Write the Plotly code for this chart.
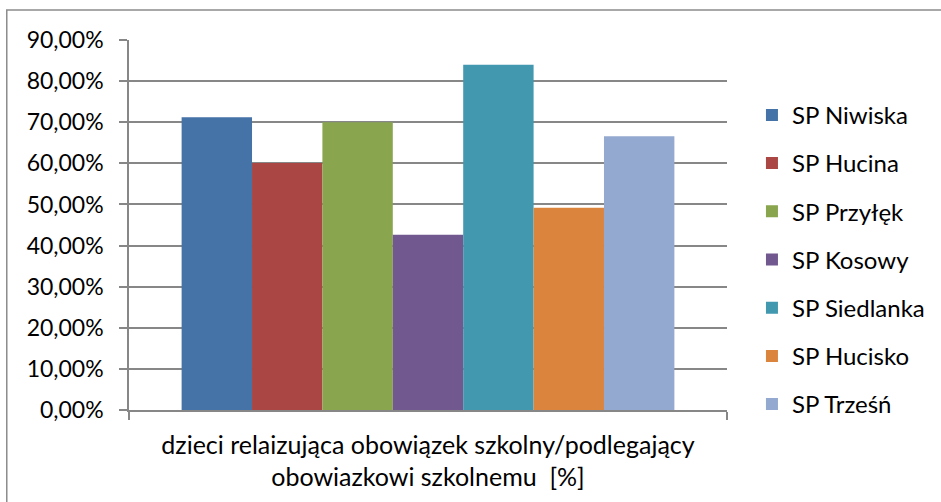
import plotly.graph_objects as go

category = "dzieci relaizująca obowiązek szkolny/podlegający<br>obowiazkowi szkolnemu  [%]"
schools = ["SP Niwiska", "SP Hucina", "SP Przyłęk", "SP Kosowy", "SP Siedlanka", "SP Hucisko", "SP Trześń"]
values = [0.712, 0.601, 0.700, 0.426, 0.840, 0.492, 0.666]
colors = ["#4572A7", "#AA4643", "#89A54E", "#71588F", "#4198AF", "#DB843D", "#93A9CF"]

FONT = "Lato"
FS = 23
GRID = "#878787"

fig = go.Figure()
for i, (name, v, c) in enumerate(zip(schools, values, colors)):
    fig.add_trace(go.Bar(
        x=[category], y=[v], name=name, marker=dict(color=c, line=dict(width=0)),
        legendgroup=f"g{i}",
    ))

fig.update_layout(
    width=941, height=502,
    margin=dict(l=129, r=213, t=40, b=92),
    paper_bgcolor="white", plot_bgcolor="white",
    font=dict(family=FONT, size=FS, color="#000000"),
    separators=",.",
    barmode="group", bargap=0.176, bargroupgap=0,
    showlegend=True,
    legend=dict(
        x=1.04, y=0.406, xanchor="left", yanchor="middle",
        traceorder="grouped", tracegroupgap=14,
        font=dict(family=FONT, size=24, color="#000000"),
        bgcolor="rgba(0,0,0,0)", itemwidth=30,
    ),
    xaxis=dict(
        showline=True, linecolor=GRID, linewidth=1.5,
        ticks="outside", ticklen=8, tickcolor=GRID, tickwidth=1.5,
        tickson="boundaries", showgrid=False,
        tickfont=dict(family=FONT, size=25, color="#000000"),
        ticklabelstandoff=12,
    ),
    yaxis=dict(
        range=[0, 0.9], dtick=0.1, tickformat=".2%",
        showline=True, linecolor=GRID, linewidth=1.5,
        ticks="outside", ticklen=8, tickcolor=GRID, tickwidth=1.5,
        showgrid=True, gridcolor=GRID, gridwidth=1.5, zeroline=False,
        tickfont=dict(family=FONT, size=FS, color="#000000"),
        ticklabelstandoff=11,
    ),
    shapes=[dict(
        type="rect", xref="paper", yref="paper",
        x0=-0.2044, x1=1.37, y0=-0.26, y1=1.081,
        line=dict(color="#8C8C8C", width=1.5), fillcolor="rgba(0,0,0,0)", layer="below",
    )],
)

fig.write_html(
    "out.html",
    config={"displayModeBar": False},
    post_script="document.body.style.margin='0';document.body.style.overflow='hidden';",
)
